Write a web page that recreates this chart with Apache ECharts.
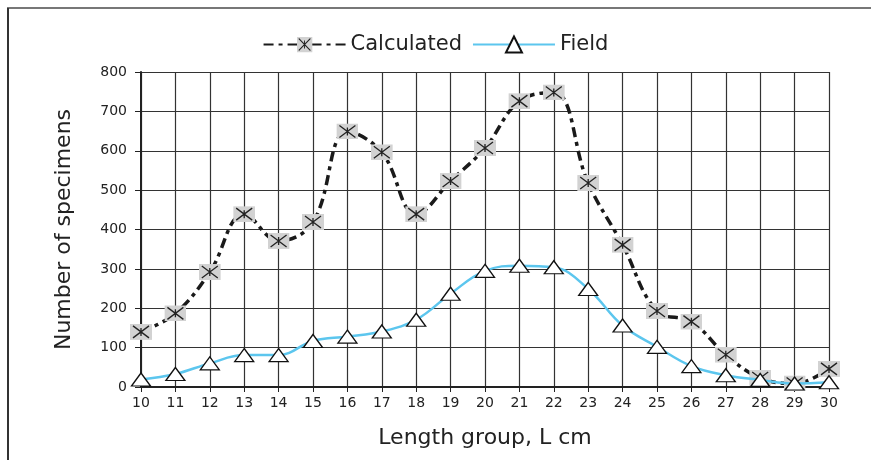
<!DOCTYPE html>
<html>
<head>
    <meta charset="utf-8" />
    <title>Calculated vs Field</title>
    <script src="https://cdn.jsdelivr.net/npm/echarts@6.0.0/dist/echarts.min.js"></script>
    <style>
        html, body { margin: 0; padding: 0; background: #fff; }
    </style>
</head>
<body>
    <div id="main" style="width: 871px;height:460px;"></div>

    <script type="text/javascript">
        var lengthGroups = ['10', '11', '12', '13', '14', '15', '16', '17', '18', '19', '20',
                            '21', '22', '23', '24', '25', '26', '27', '28', '29', '30'];
        var calculated = [140, 187, 292, 439, 371, 419, 649, 596, 439, 523, 607,
                          726, 748, 518, 361, 193, 166, 82, 23, 9, 46];
        var field = [19, 33, 60, 81, 81, 117, 128, 141, 171, 237, 295,
                     308, 304, 249, 156, 102, 53, 30, 18, 9, 12];

        // grey box with an asterisk, as in the original marker
        var boxSvg = "<svg xmlns='http://www.w3.org/2000/svg' width='22' height='16'>" +
            "<rect width='22' height='16' fill='#d2d2d2'/>" +
            "<path d='M3 2L19 14M19 2L3 14M11 4V12' stroke='#222' stroke-width='1.3' fill='none'/></svg>";
        var boxSymbol = 'image://data:image/svg+xml;charset=utf-8,' + encodeURIComponent(boxSvg);

        var myChart = echarts.init(document.getElementById('main'));

        var font = 'DejaVu Sans';

        option = {
            animation: false,
            backgroundColor: '#fff',
            legend: {
                top: 29,
                left: 'center',
                itemWidth: 82,
                itemHeight: 20,
                itemGap: 10,
                textStyle: { fontFamily: font, fontSize: 21, color: '#222' },
                data: ['Calculated', 'Field']
            },
            grid: {
                left: 141,
                right: 42,
                top: 72,
                bottom: 73
            },
            xAxis: {
                type: 'category',
                data: lengthGroups,
                boundaryGap: false,
                name: 'Length group, L cm',
                nameLocation: 'middle',
                nameGap: 40,
                nameTextStyle: { fontFamily: font, fontSize: 22, color: '#222' },
                axisLine: { lineStyle: { color: '#222', width: 2 } },
                axisTick: { show: true, length: 5, alignWithLabel: true, lineStyle: { color: '#222' } },
                axisLabel: { fontFamily: font, fontSize: 14, color: '#222', margin: 9, interval: 0 },
                splitLine: { show: true, lineStyle: { color: '#333', width: 1.2 } }
            },
            yAxis: {
                type: 'value',
                min: 0,
                max: 800,
                interval: 100,
                name: 'Number of specimens',
                nameLocation: 'middle',
                nameGap: 66,
                nameTextStyle: { fontFamily: font, fontSize: 22, color: '#222' },
                axisLine: { show: true, lineStyle: { color: '#222', width: 2 } },
                axisTick: { show: true, length: 6, lineStyle: { color: '#222' } },
                axisLabel: { fontFamily: font, fontSize: 14, color: '#222', margin: 14 },
                splitLine: { show: true, lineStyle: { color: '#333', width: 1.2 } }
            },
            graphic: [
                {
                    type: 'line',
                    shape: { x1: 7, y1: 8, x2: 871, y2: 8 },
                    style: { stroke: '#777', lineWidth: 2 }
                },
                {
                    type: 'line',
                    shape: { x1: 8, y1: 8, x2: 8, y2: 460 },
                    style: { stroke: '#333', lineWidth: 2 }
                }
            ],
            series: [
                {
                    name: 'Calculated',
                    type: 'line',
                    data: calculated,
                    smooth: 0.4,
                    symbol: boxSymbol,
                    symbolSize: [22, 16],
                    showAllSymbol: true,
                    lineStyle: { color: '#1a1a1a', width: 3.5, type: [10, 5, 4, 5] },
                    itemStyle: { color: '#1a1a1a' },
                    z: 3
                },
                {
                    name: 'Field',
                    type: 'line',
                    data: field,
                    smooth: 0.4,
                    symbol: 'triangle',
                    symbolSize: [19, 13],
                    showAllSymbol: true,
                    lineStyle: { color: '#5cc6ee', width: 2.5 },
                    itemStyle: { color: '#fff', borderColor: '#111', borderWidth: 1.3 },
                    z: 4
                }
            ]
        };

        myChart.setOption(option);
    </script>
</body>
</html>
